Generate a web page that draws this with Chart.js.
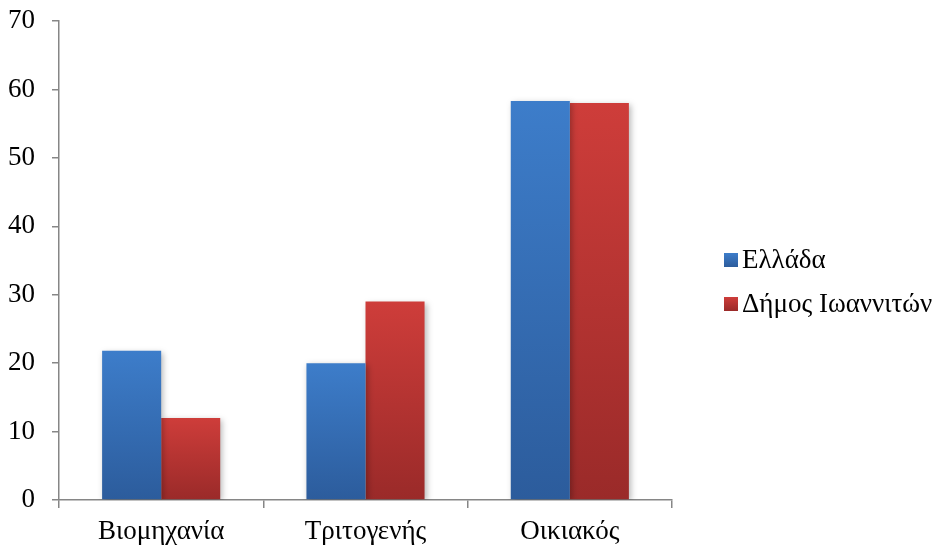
<!DOCTYPE html>
<html>
<head>
<meta charset="utf-8">
<script src="https://cdn.jsdelivr.net/npm/chart.js@4/dist/chart.umd.min.js"></script>
<style>
  html, body { margin: 0; padding: 0; background: #ffffff; }
  canvas { display: block; }
</style>
</head>
<body>
<canvas id="chart" width="932" height="546"></canvas>
<script>
// Categories and values
const categories = ['Βιομηχανία', 'Τριτογενής', 'Οικιακός'];
const greece = [21.8, 20.0, 58.3];
const ioannina = [12.0, 29.0, 58.0];
const seriesLabels = ['Ελλάδα', 'Δήμος Ιωαννιτών'];
const yTicks = [0, 10, 20, 30, 40, 50, 60, 70];

const FONT = '"Liberation Serif", "Times New Roman", serif';
const FONT_SIZE = 27;
const AXIS = '#868686';

// Top/bottom colours of each series' vertical gradient
const shades = [
  { top: '#3d7dca', bottom: '#2c5c9c' },
  { top: '#ce3d3a', bottom: '#9a2a29' }
];

function barGradient(ctx, shade) {
  const chart = ctx.chart;
  const y = chart.scales && chart.scales.y;
  if (!y || !chart.chartArea || ctx.raw == null) return shade.top;
  const y0 = y.getPixelForValue(0);
  const y1 = y.getPixelForValue(ctx.raw);
  if (!isFinite(y0) || !isFinite(y1) || y0 === y1) return shade.top;
  const g = chart.ctx.createLinearGradient(0, y1, 0, y0);
  g.addColorStop(0, shade.top);
  g.addColorStop(1, shade.bottom);
  return g;
}

// Soft drop shadow behind the bars
const barShadow = {
  id: 'barShadow',
  beforeDatasetsDraw(chart) {
    const c = chart.ctx;
    c.save();
    c.shadowColor = 'rgba(0,0,0,0.28)';
    c.shadowBlur = 6;
    c.shadowOffsetX = 2;
    c.shadowOffsetY = 2;
  },
  afterDatasetsDraw(chart) {
    chart.ctx.restore();
  }
};

// Legend at the right, with gradient squares
const sideLegend = {
  id: 'sideLegend',
  afterDraw(chart) {
    const c = chart.ctx;
    const x = 724, size = 14;
    const rows = [260, 304];
    c.save();
    chart.data.datasets.forEach((ds, i) => {
      const cy = rows[i];
      const g = c.createLinearGradient(0, cy - size / 2, 0, cy + size / 2);
      g.addColorStop(0, shades[i].top);
      g.addColorStop(1, shades[i].bottom);
      c.fillStyle = g;
      c.fillRect(x, cy - size / 2, size, size);
      c.fillStyle = '#000000';
      c.font = FONT_SIZE + 'px ' + FONT;
      c.textBaseline = 'middle';
      c.textAlign = 'left';
      c.fillText(ds.label, x + 18, cy + 1);
    });
    c.restore();
  }
};

new Chart(document.getElementById('chart'), {
  type: 'bar',
  data: {
    labels: categories,
    datasets: [
      {
        label: seriesLabels[0],
        data: greece,
        backgroundColor: (ctx) => barGradient(ctx, shades[0]),
        borderWidth: 0
      },
      {
        label: seriesLabels[1],
        data: ioannina,
        backgroundColor: (ctx) => barGradient(ctx, shades[1]),
        borderWidth: 0
      }
    ]
  },
  options: {
    responsive: false,
    devicePixelRatio: 1,
    animation: false,
    datasets: { bar: { categoryPercentage: 0.578, barPercentage: 1.0 } },
    layout: { padding: { top: 21, right: 260, bottom: 0, left: 0 } },
    plugins: {
      legend: { display: false },
      tooltip: { enabled: false }
    },
    scales: {
      x: {
        grid: {
          display: true,
          offset: true,
          drawOnChartArea: false,
          drawTicks: true,
          tickLength: 8,
          color: AXIS,
          lineWidth: 1.5
        },
        border: { display: true, color: AXIS, width: 1.5 },
        ticks: {
          color: '#000000',
          font: { family: FONT, size: FONT_SIZE },
          padding: 8,
          maxRotation: 0
        },
        afterFit(scale) {
          scale.height = 46;
          scale.paddingLeft = 0;
          scale.paddingRight = 0;
        }
      },
      y: {
        min: 0,
        max: 70,
        afterBuildTicks(scale) { scale.ticks = yTicks.map(v => ({ value: v })); },
        grid: {
          display: true,
          drawOnChartArea: false,
          drawTicks: true,
          tickLength: 7,
          color: AXIS,
          lineWidth: 1.5
        },
        border: { display: true, color: AXIS, width: 1.5 },
        ticks: {
          color: '#000000',
          font: { family: FONT, size: FONT_SIZE },
          padding: 17
        },
        afterFit(scale) {
          scale.width = 59;
          scale.paddingTop = 0;
          scale.paddingBottom = 0;
        }
      }
    }
  },
  plugins: [barShadow, sideLegend]
});
</script>
</body>
</html>
